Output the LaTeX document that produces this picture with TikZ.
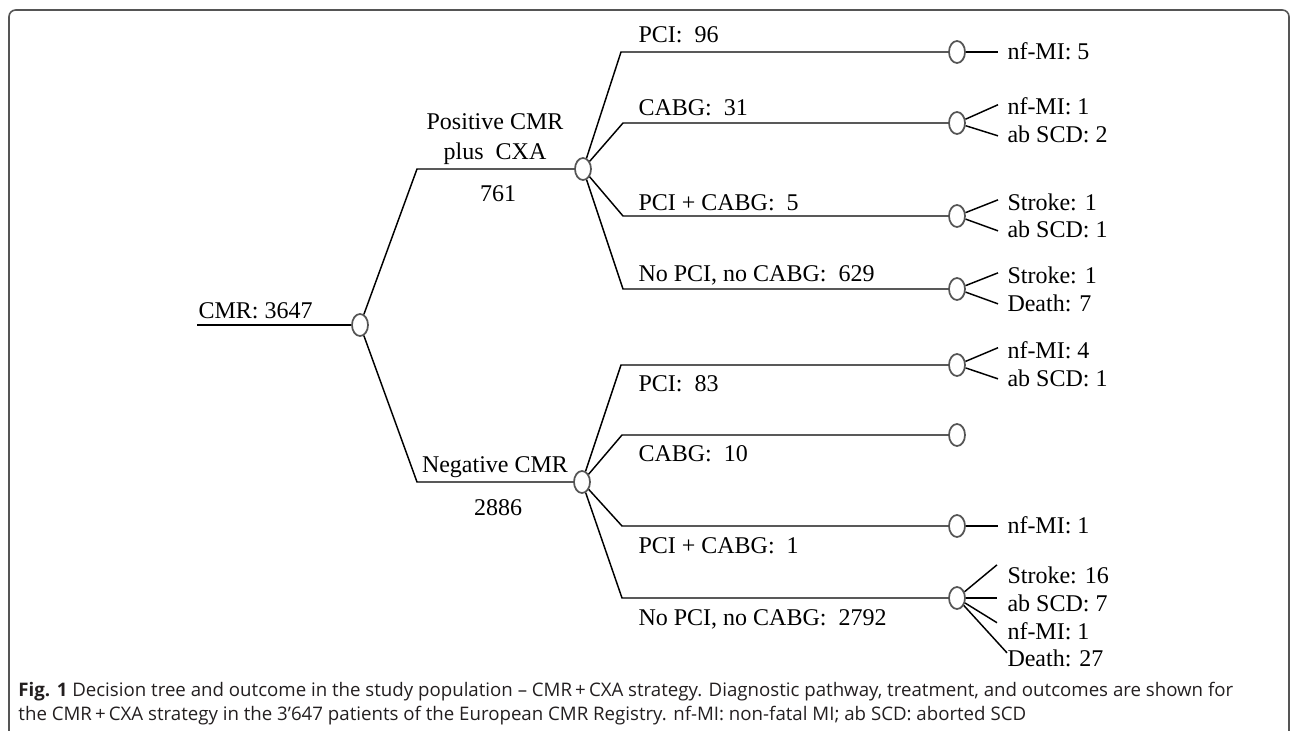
\documentclass[tikz,border=0pt]{standalone}
\usepackage{fontspec}
\setmainfont{Liberation Serif}
\newfontfamily\captionfont{Open Sans}
\usetikzlibrary{shapes.geometric,calc}

\tikzset{every picture/.style={line width=0.75pt}}
\tikzset{
  chance/.style={ellipse, draw={rgb, 255:red, 85; green, 85; blue, 85}, line width=1.3pt, fill=white, inner sep=0pt, minimum width=12pt, minimum height=16.5pt},
  branch/.style={line width=1.1pt},
  lbl/.style={inner sep=0.75pt, font=\fontsize{18}{21}\selectfont},
  figcaption/.style={inner sep=0pt, color={rgb, 255:red, 35; green, 31; blue, 32}, font=\captionfont\fontsize{14}{17}\selectfont}
}

\begin{document}
\begin{tikzpicture}[x=0.75pt,y=0.75pt,yscale=-1,xscale=1]
	\useasboundingbox (0,0) rectangle (1292,731);
	
	%Frame
	\draw [color={rgb, 255:red, 85; green, 85; blue, 85 }, line width=1.2pt, rounded corners=5pt] (9,745) -- (9,10) -- (1289,10) -- (1289,745) ;
	
	%Shape: Ellipse (chance nodes)
	\node [chance] (root) at (360,325) {};
	\node [chance] (pos) at (583,169) {};
	\node [chance] (neg) at (582,482) {};
	\node [chance] (t1) at (957,52) {};
	\node [chance] (t2) at (957,123) {};
	\node [chance] (t3) at (957,216) {};
	\node [chance] (t4) at (957,289) {};
	\node [chance] (t5) at (957,365) {};
	\node [chance] (t6) at (957,435) {};
	\node [chance] (t7) at (957,526) {};
	\node [chance] (t8) at (957,598) {};
	
	%Bend points
	\coordinate (in) at (197,325);
	\coordinate (bp) at (417,169);
	\coordinate (bn) at (417,482);
	\coordinate (b1) at (621,52);
	\coordinate (b2) at (623,123);
	\coordinate (b3) at (623,216);
	\coordinate (b4) at (623,289);
	\coordinate (b5) at (621,365);
	\coordinate (b6) at (622,435);
	\coordinate (b7) at (622,526);
	\coordinate (b8) at (622,598);
	
	%Straight Lines
	\draw [branch] (in) -- (root) ;
	\draw [branch] (root) -- (bp) -- (pos) ;
	\draw [branch] (root) -- (bn) -- (neg) ;
	\draw [branch] (pos) -- (b1) -- (t1) ;
	\draw [branch] (pos) -- (b2) -- (t2) ;
	\draw [branch] (pos) -- (b3) -- (t3) ;
	\draw [branch] (pos) -- (b4) -- (t4) ;
	\draw [branch] (neg) -- (b5) -- (t5) ;
	\draw [branch] (neg) -- (b6) -- (t6) ;
	\draw [branch] (neg) -- (b7) -- (t7) ;
	\draw [branch] (neg) -- (b8) -- (t8) ;
	
	% Text Node
	\draw (197,318) node [anchor=base west][lbl] (lroot) {CMR: 3647};
	% Text Node
	\draw (495,130) node [anchor=base][lbl] (lpos1) {Positive CMR};
	\draw (495,160) node [anchor=base][lbl] (lpos2) {plus\ \ CXA};
	\draw (498,201) node [anchor=base][lbl] (npos) {761};
	% Text Node
	\draw (495,472) node [anchor=base][lbl] (lneg) {Negative CMR};
	\draw (498,515) node [anchor=base][lbl] (nneg) {2886};
	
	% Text Node
	\draw (637,43) node [anchor=base west][lbl] (l1) {PCI:\ \ 96};
	\draw (637,116) node [anchor=base west][lbl] (l2) {CABG:\ \ 31};
	\draw (637,210) node [anchor=base west][lbl] (l3) {PCI + CABG:\ \ 5};
	\draw (637,281) node [anchor=base west][lbl] (l4) {No PCI, no CABG:\ \ 629};
	% Text Node
	\draw (637,391) node [anchor=base west][lbl] (l5) {PCI:\ \ 83};
	\draw (637,461) node [anchor=base west][lbl] (l6) {CABG:\ \ 10};
	\draw (637,553) node [anchor=base west][lbl] (l7) {PCI + CABG:\ \ 1};
	\draw (637,625) node [anchor=base west][lbl] (l8) {No PCI, no CABG:\ \ 2792};
	
	% Text Node (outcomes)
	\draw (1006,60) node [anchor=base west][lbl] (o11) {nf-MI: 5};
	\draw (1006,115) node [anchor=base west][lbl] (o21) {nf-MI: 1};
	\draw (1006,143) node [anchor=base west][lbl] (o22) {ab SCD: 2};
	\draw (1006,210) node [anchor=base west][lbl] (o31) {Stroke: 1};
	\draw (1006,238) node [anchor=base west][lbl] (o32) {ab SCD: 1};
	\draw (1006,283) node [anchor=base west][lbl] (o41) {Stroke: 1};
	\draw (1006,311) node [anchor=base west][lbl] (o42) {Death: 7};
	\draw (1006,358) node [anchor=base west][lbl] (o51) {nf-MI: 4};
	\draw (1006,386) node [anchor=base west][lbl] (o52) {ab SCD: 1};
	\draw (1006,533) node [anchor=base west][lbl] (o71) {nf-MI: 1};
	\draw (1006,583) node [anchor=base west][lbl] (o81) {Stroke: 16};
	\draw (1006,611) node [anchor=base west][lbl] (o82) {ab SCD: 7};
	\draw (1006,639) node [anchor=base west][lbl] (o83) {nf-MI: 1};
	\draw (1006,666) node [anchor=base west][lbl] (o84) {Death: 27};
	
	%Straight Lines (outcomes)
	\draw [branch] (t1) -- ($(t1 -| o11.west)+(-8,0)$) ;
	\draw [branch] (t2) -- ($(o21.west)+(-8,-2)$) ;
	\draw [branch] (t2) -- ($(o22.west)+(-8,1)$) ;
	\draw [branch] (t3) -- ($(o31.west)+(-8,-2)$) ;
	\draw [branch] (t3) -- ($(o32.west)+(-8,1)$) ;
	\draw [branch] (t4) -- ($(o41.west)+(-8,-2)$) ;
	\draw [branch] (t4) -- ($(o42.west)+(-8,1)$) ;
	\draw [branch] (t5) -- ($(o51.west)+(-8,-2)$) ;
	\draw [branch] (t5) -- ($(o52.west)+(-8,1)$) ;
	\draw [branch] (t7) -- ($(t7 -| o71.west)+(-8,0)$) ;
	\draw [branch] (t8) -- ($(o81.west)+(-9,-10)$) ;
	\draw [branch] (t8) -- ($(t8 -| o82.west)+(-9,0)$) ;
	\draw [branch] (t8) -- ($(o83.west)+(-9,-8)$) ;
	\draw [branch] (t8) -- ($(o84.west)+(1,-5)$) ;
	
	% Text Node (caption)
	\draw (18,696) node [anchor=base west][figcaption] (cap1) {\textbf{Fig. 1} Decision tree and outcome in the study population – CMR\,+\,CXA strategy. Diagnostic pathway, treatment, and outcomes are shown for};
	\draw (18,720) node [anchor=base west][figcaption] (cap2) {the CMR\,+\,CXA strategy in the 3’647 patients of the European CMR Registry. nf-MI: non-fatal MI; ab SCD: aborted SCD};
	
\end{tikzpicture}
\end{document}
